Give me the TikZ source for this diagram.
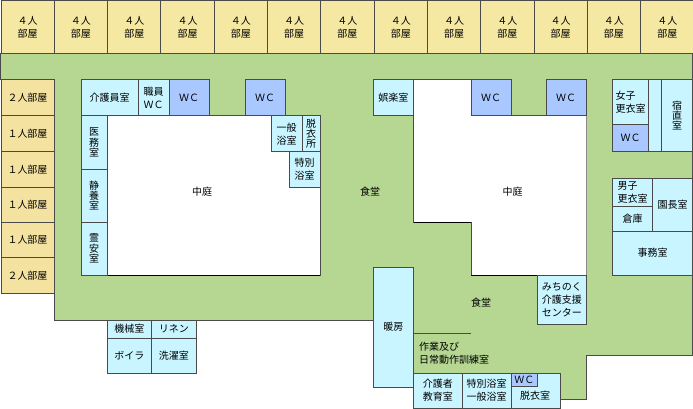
\documentclass[tikz,border=0pt]{standalone}
\usepackage{fontspec}
\setmainfont{Noto Sans CJK JP}
\definecolor{bedc}{HTML}{F5E8A3}
\definecolor{sidec}{HTML}{F4E2A0}
\definecolor{hallc}{HTML}{B5D792}
\definecolor{staffc}{HTML}{C8F5FF}
\definecolor{wcc}{HTML}{A8C8FF}
\definecolor{wallc}{HTML}{4A4A4A}
\tikzstyle{wall}=[draw=wallc, line width=1pt, line join=miter]
\tikzstyle{bed}=[wall, fill=bedc]
\tikzstyle{side}=[wall, fill=sidec]
\tikzstyle{staff}=[wall, fill=staffc]
\tikzstyle{wc}=[wall, fill=wcc]
\tikzstyle{dark}=[draw=black, line width=1pt]
\tikzstyle{pale}=[draw=black!45, line width=1pt]
\tikzstyle{txt}=[inner sep=0pt, align=center, font=\fontsize{10}{13}\selectfont]
\tikzstyle{tate}=[inner sep=0pt, align=center, font=\fontsize{10}{10.4}\selectfont]
\tikzstyle{txtl}=[inner sep=0pt, align=left, font=\fontsize{10}{13}\selectfont]

\begin{document}
\begin{tikzpicture}[x=1pt, y=-1pt]
    \useasboundingbox (0,0) rectangle (693,409);
    % floor and courtyards
    \fill[white] (0,0) rectangle (693,409);
    \draw[wall, fill=hallc] (0,54)--(692.5,54)--(692.5,355)--(586,355)--(586,399.5)--(413.5,399.5)--(413.5,320)--(54,320)--(54,80)--(0,80)--cycle;
    \draw[wall, fill=white] (107,116) rectangle (320,275);
    \draw[wall, fill=white] (413.5,80)--(471,80)--(471,116)--(586,116)--(586,275)--(471,275)--(471,222)--(413.5,222)--cycle;
    \draw[dark] (107,275)--(320,275);
    \draw[dark] (413.5,222)--(471,222) (471,275)--(586,275);
    \draw[pale] (586,116)--(586,275);
    \draw[wall] (413.5,333.5)--(471,333.5);
    % bedrooms
    \foreach \i in {0,...,12} {
        \draw[bed] ({1+53.3*\i},1) rectangle ++(53.3,53) node[midway, txt] (top\i) {４人\\部屋};
    }
    \draw[side] (1,80) rectangle (54,116) node[midway, txt] (s1) {２人部屋};
    \draw[side] (1,116) rectangle (54,151.5) node[midway, txt] (s2) {１人部屋};
    \draw[side] (1,151.5) rectangle (54,187) node[midway, txt] (s3) {１人部屋};
    \draw[side] (1,187) rectangle (54,222) node[midway, txt] (s4) {１人部屋};
    \draw[side] (1,222) rectangle (54,257.5) node[midway, txt] (s5) {１人部屋};
    \draw[side] (1,257.5) rectangle (54,293) node[midway, txt] (s6) {２人部屋};
    % rooms round the first courtyard
    \draw[staff] (81,80) rectangle (138,116) node[midway, txt] (kaigo) {介護員室};
    \draw[staff] (138,80) rectangle (169,116) node[midway, txt] (shokuin) {職員\\ＷＣ};
    \draw[wc] (169,80) rectangle (209,116) node[midway, txt] (wca) {ＷＣ};
    \draw[wc] (245,80) rectangle (285,116) node[midway, txt] (wcb) {ＷＣ};
    \draw[staff] (271,116) rectangle (302,151.5) node[midway, txt] (ippan) {一般\\浴室};
    \draw[staff] (302,116) rectangle (320,151.5) node[midway, tate] (datsu) {脱\\衣\\所};
    \draw[staff] (289,151.5) rectangle (320,187) node[midway, txt] (tokubetsu) {特別\\浴室};
    \draw[staff] (81,116) rectangle (107,169) node[midway, tate] (imu) {医\\務\\室};
    \draw[staff] (81,169) rectangle (107,222) node[midway, tate] (seiyo) {静\\養\\室};
    \draw[staff] (81,222) rectangle (107,275) node[midway, tate] (reian) {霊\\安\\室};
    % second courtyard
    \draw[staff] (373,80) rectangle (413.5,116) node[midway, txt] (goraku) {娯楽室};
    \draw[wc] (471,80) rectangle (511,116) node[midway, txt] (wcc) {ＷＣ};
    \draw[wc] (546,80) rectangle (586,116) node[midway, txt] (wcd) {ＷＣ};
    % right side
    \draw[staff] (612.5,80) rectangle (648.5,125) node[midway, txtl] (joshi) {女子\\更衣室};
    \draw[wc] (612.5,125) rectangle (648.5,151) node[midway, txt] (wce) {ＷＣ};
    \draw[staff] (648.5,80) rectangle (661.5,151);
    \draw[staff] (661.5,80) rectangle (692.5,151) node[midway, tate] (shukuchoku) {宿\\直\\室};
    \draw[staff] (612.5,178) rectangle (652.5,206) node[midway, txtl] (danshi) {男子\\更衣室};
    \draw[staff] (612.5,206) rectangle (652.5,231) node[midway, txt] (soko) {倉庫};
    \draw[staff] (652.5,178) rectangle (692.5,231) node[midway, txt] (encho) {園長室};
    \draw[staff] (612.5,231) rectangle (692.5,275) node[midway, txt] (jimu) {事務室};
    % lower wing
    \draw[staff] (537.5,275) rectangle (586,324) node[midway, txt] (michinoku) {みちのく\\介護支援\\センター};
    \draw[staff] (373,267) rectangle (413.5,387) node[midway, txt] (danbo) {暖房};
    \draw[staff] (413.5,373) rectangle (462,408) node[midway, txt] (kyoiku) {介護者\\教育室};
    \draw[staff] (462,373) rectangle (511,408) node[midway, txt] (yokushitsu) {特別浴室\\一般浴室};
    \draw[staff] (511,373) rectangle (560,408);
    \draw[wc] (511,373) rectangle (537.5,386.5) node[midway, txt] (wcf) {ＷＣ};
    \node[txt] (datsui) at (535,396) {脱衣室};
    \draw[staff] (107,320) rectangle (151.5,338) node[midway, txt] (kikai) {機械室};
    \draw[staff] (151.5,320) rectangle (196,338) node[midway, txt] (linen) {リネン};
    \draw[staff] (107,338) rectangle (151.5,373) node[midway, txt] (boira) {ボイラ};
    \draw[staff] (151.5,338) rectangle (196,373) node[midway, txt] (sentaku) {洗濯室};
    % open areas
    \node[txt] (niwaa) at (202,192) {中庭};
    \node[txt] (niwab) at (512.5,192) {中庭};
    \node[txt] (shokua) at (370,192) {食堂};
    \node[txt] (shokub) at (481,303) {食堂};
    \node[txtl, anchor=west] (sagyo) at (419,353.5) {作業及び\\日常動作訓練室};
\end{tikzpicture}
\end{document}
